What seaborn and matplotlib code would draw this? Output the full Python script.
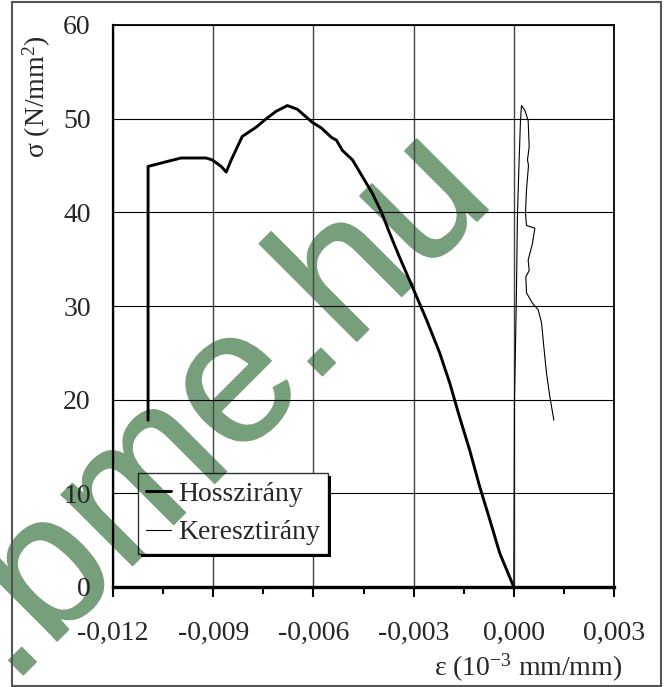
import matplotlib
matplotlib.use("Agg")
import matplotlib.pyplot as plt
import matplotlib.patheffects as pe
import seaborn as sns
import pandas as pd
from matplotlib.patches import Rectangle
from matplotlib.ticker import MultipleLocator

# ---- data ----
hossz_eps = [-0.01095, -0.01095, -0.01041, -0.00996, -0.00921, -0.00903, -0.00876, -0.00861,
             -0.00846, -0.00813, -0.00771, -0.00741, -0.00711, -0.00678, -0.00648, -0.00603,
             -0.00576, -0.00546, -0.00531, -0.00513, -0.00483, -0.00453, -0.00423, -0.00396,
             -0.00372, -0.00342, -0.00303, -0.00261, -0.00222, -0.00192, -0.00162, -0.00132,
             -0.00102, -0.00072, -0.00042, 0.0]
hossz_sig = [17.8, 44.9, 45.4, 45.8, 45.8, 45.6, 44.9, 44.3,
             45.6, 48.1, 49.1, 50.0, 50.8, 51.4, 51.0, 49.6,
             49.0, 48.0, 47.7, 46.6, 45.6, 43.8, 42.0, 40.0,
             37.8, 35.2, 32.0, 28.5, 25.0, 21.8, 18.1, 14.6,
             10.7, 7.2, 3.6, 0.0]

kereszt_eps = [0.0, 0.00002, 0.00005, 0.00008, 0.00011, 0.00016, 0.0002, 0.00023,
               0.00033, 0.00043, 0.00046, 0.00041, 0.00044, 0.00038, 0.00035, 0.00038,
               0.00063, 0.00056, 0.00048, 0.00043, 0.00046, 0.00036, 0.00038, 0.00056,
               0.00073, 0.00083, 0.0009, 0.00098, 0.00108, 0.0012]
kereszt_sig = [0.0, 20.0, 25.6, 31.7, 39.9, 45.6, 49.8, 51.4,
               50.9, 49.8, 47.0, 45.6, 45.0, 42.4, 39.9, 38.6,
               38.3, 36.7, 35.6, 34.9, 33.8, 33.1, 31.4, 30.3,
               29.6, 28.2, 25.6, 22.8, 20.3, 17.8]

x_ticks = [-0.012, -0.009, -0.006, -0.003, 0.000, 0.003]
x_tick_labels = ["-0,012", "-0,009", "-0,006", "-0,003", "0,000", "0,003"]
y_ticks = [0, 10, 20, 30, 40, 50, 60]
series_names = ["Hosszirány", "Keresztirány"]
watermark = ".bme.hu"

df_h = pd.DataFrame({"eps": hossz_eps, "sig": hossz_sig})
df_k = pd.DataFrame({"eps": kereszt_eps, "sig": kereszt_sig})

# ---- style ----
sns.set_style("white")
plt.rcParams["font.family"] = ["Liberation Serif", "DejaVu Serif"]
plt.rcParams["mathtext.fontset"] = "custom"
plt.rcParams["mathtext.rm"] = "Liberation Serif"
plt.rcParams["mathtext.it"] = "Liberation Serif:italic"

W, H = 668, 687
fig = plt.figure(figsize=(W / 100, H / 100), dpi=100)
ax = fig.add_axes([113 / W, 1 - 587 / H, (614 - 113) / W, (587 - 25) / H])

sns.lineplot(data=df_h, x="eps", y="sig", sort=False, estimator=None, ax=ax,
             color="black", linewidth=2.1, label=series_names[0], zorder=5)
sns.lineplot(data=df_k, x="eps", y="sig", sort=False, estimator=None, ax=ax,
             color="black", linewidth=0.8, label=series_names[1], zorder=5)

ax.set_xlim(-0.012, 0.003)
ax.set_ylim(0, 60)
ax.set_xticks(x_ticks)
ax.set_xticklabels(x_tick_labels)
ax.set_yticks(y_ticks)
ax.xaxis.set_minor_locator(MultipleLocator(0.0015))
ax.tick_params(axis="x", which="major", direction="out", length=7, width=1.5,
               labelsize=20, pad=17.5, color="black", bottom=True)
ax.tick_params(axis="x", which="minor", direction="out", length=5, width=1.5,
               color="black", bottom=True)
ax.tick_params(axis="y", which="major", length=0, labelsize=20, pad=16)
ax.grid(True, which="major", axis="y", color="black", linewidth=0.8)
ax.grid(True, which="major", axis="x", color="#444444", linewidth=1.0)
ax.set_axisbelow(True)
for s in ["top", "right"]:
    ax.spines[s].set_color("black")
    ax.spines[s].set_linewidth(1.3)
ax.spines["left"].set_color("black")
ax.spines["left"].set_linewidth(1.6)
ax.spines["bottom"].set_color("black")
ax.spines["bottom"].set_linewidth(2.4)
ax.set_xlabel("")
ax.set_ylabel("")

leg = ax.legend(loc="upper left", bbox_to_anchor=(138 / W, 1 - 473 / H),
                bbox_transform=fig.transFigure, fontsize=20, frameon=True,
                fancybox=False, facecolor="none", edgecolor="black", shadow=False,
                handlelength=0.9, handletextpad=0.25, borderpad=0.3,
                labelspacing=0.47, borderaxespad=0)
leg.get_frame().set_linewidth(1.0)
leg.set_zorder(10)

fig.text(37 / W, 1 - 97 / H, "σ (N/mm$^{\\mathrm{2}}$)", rotation=90,
         ha="center", va="center", fontsize=20)
fig.text(622 / W, 1 - 668 / H, "ε (10$^{\\mathrm{-3}}$ mm/mm)",
         ha="right", va="center", fontsize=20)

# outer frame
fig.patches.append(Rectangle((12 / W, 1 / H), (661 - 12) / W, (685 - 1) / H,
                             transform=fig.transFigure, fill=False,
                             edgecolor="#555555", linewidth=1.5, zorder=30))

# legend background + shadow (drawn below the watermark so it shows through)
fig.canvas.draw()
bb = leg.get_frame().get_window_extent(fig.canvas.get_renderer())
inv = fig.transFigure.inverted()
(x0, y0), (x1, y1) = inv.transform([[bb.x0, bb.y0], [bb.x1, bb.y1]])
shadow = Rectangle((x0 + 3 / W, y0 - 3 / H), x1 - x0, y1 - y0, transform=fig.transFigure,
                   facecolor="black", edgecolor="none", zorder=0.55, clip_on=False)
white = Rectangle((x0, y0), x1 - x0, y1 - y0, transform=fig.transFigure,
                  facecolor="white", edgecolor="none", zorder=0.56, clip_on=False)
ax.add_artist(shadow)
ax.add_artist(white)

# watermark
wm_color = "#789f7b"
wm_kw = dict(family="Liberation Sans", fontsize=137, color=wm_color, rotation=45,
             rotation_mode="anchor", ha="left", va="baseline",
             transform=fig.transFigure,
             path_effects=[pe.Stroke(linewidth=1.2, foreground=wm_color)])
ax.text(11 / W, 1 - 687 / H, watermark, zorder=0.4, clip_on=False, **wm_kw)
wm2 = ax.text(11 / W, 1 - 687 / H, watermark, zorder=0.6, clip_on=True, **wm_kw)
wm2.set_clip_path(white)

fig.savefig("out.png", dpi=100)
